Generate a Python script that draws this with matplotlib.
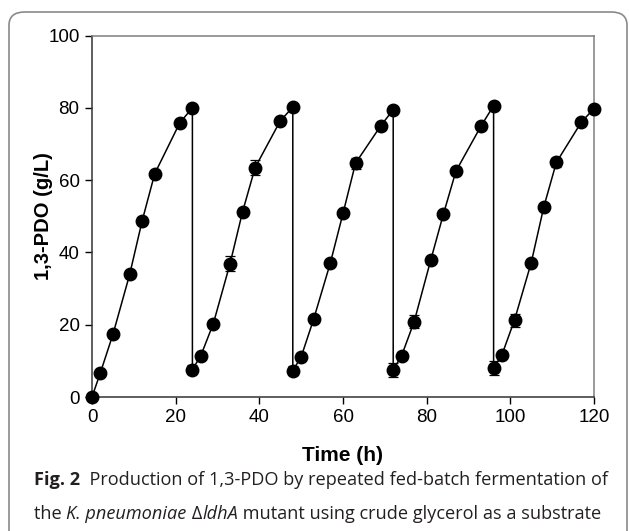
import numpy as np
import matplotlib.pyplot as plt
from matplotlib.patches import FancyBboxPatch

plt.rcParams['font.family'] = ['Liberation Sans', 'DejaVu Sans']

# tiempos (h) de cada ciclo, el punto de 24, 48, 72, 96 aparece dos veces (alimentacion)
tiempo = [0, 2, 5, 9, 12, 15, 21, 24,
          24, 26, 29, 33, 36, 39, 45, 48,
          48, 50, 53, 57, 60, 63, 69, 72,
          72, 74, 77, 81, 84, 87, 93, 96,
          96, 98, 101, 105, 108, 111, 117, 120]
pdo = [0, 6.7, 17.3, 33.9, 48.8, 61.8, 75.9, 80.0,
       7.6, 11.4, 20.3, 36.9, 51.3, 63.5, 76.4, 80.2,
       7.3, 11.1, 21.6, 37.2, 50.8, 64.7, 75.0, 79.5,
       7.5, 11.4, 20.8, 38.0, 50.6, 62.5, 75.0, 80.6,
       8.0, 11.7, 21.3, 37.2, 52.6, 64.9, 76.1, 79.8]
error = [0.3, 0.8, 0.8, 0.9, 0.9, 0.9, 0.9, 0.8,
         1.3, 0.9, 0.8, 2.0, 1.0, 2.0, 0.9, 0.8,
         1.2, 1.0, 0.8, 0.9, 0.9, 1.5, 0.8, 0.8,
         2.0, 1.0, 1.8, 0.9, 0.8, 1.2, 0.8, 0.8,
         2.0, 0.8, 1.8, 0.8, 0.8, 1.2, 0.9, 0.8]

fig = plt.figure(figsize=(6.29, 5.31), dpi=100)

# marco redondeado alrededor de figura y leyenda
marco = FancyBboxPatch((9 / 629, -0.05), (629 - 11) / 629, (531 - 12) / 531 + 0.05,
                       boxstyle="round,pad=0,rounding_size=0.025",
                       transform=fig.transFigure, fill=False,
                       edgecolor="#8a8a8a", linewidth=1.2, clip_on=False)
fig.patches.append(marco)

ax = fig.add_axes([92 / 629, 1 - 397 / 531, (594 - 92) / 629, (397 - 35.6) / 531])
ax.errorbar(tiempo, pdo, yerr=error, color="black", marker="o", markersize=9,
            linewidth=1.1, elinewidth=0.9, capsize=3.5, capthick=0.9, clip_on=False, zorder=3)

ax.set_xlim(0, 120)
ax.set_ylim(0, 100)
ax.set_xticks(np.arange(0, 121, 20))
ax.set_yticks(np.arange(0, 101, 20))
ax.tick_params(direction="out", length=5, width=1, labelsize=13.5, pad=4, colors="black")
ax.spines["left"].set_color("#333333")
ax.spines["bottom"].set_color("#333333")
ax.spines["top"].set_color("#7f7f7f")
ax.spines["right"].set_color("#7f7f7f")
for s in ax.spines.values():
    s.set_linewidth(1.1)

ax.set_xlabel("Time (h)", fontsize=15, fontweight="bold", labelpad=14)
ax.set_ylabel("1,3-PDO (g/L)", fontsize=14.5, fontweight="bold")
ax.yaxis.set_label_coords(-0.078, 0.5)

# leyenda de la figura, en piezas para mezclar negrita e italica
fig.canvas.draw()
r = fig.canvas.get_renderer()
lineas = [
    [("Fig. 2", "bold", "normal"), ("  Production of 1,3-PDO by repeated fed-batch fermentation of", "normal", "normal")],
    [("the ", "normal", "normal"), ("K. pneumoniae", "normal", "italic"), (" \u0394", "normal", "normal"),
     ("ldhA", "normal", "italic"), (" mutant using crude glycerol as a substrate", "normal", "normal")],
]
ys = [480, 514]
for linea, ypx in zip(lineas, ys):
    x = 34
    for txt, w, st in linea:
        t = fig.text(x / 629, 1 - ypx / 531, txt, fontsize=13.1, family="Open Sans",
                     fontweight=w, fontstyle=st, va="center", ha="left", color="#231f20")
        bb = t.get_window_extent(renderer=r)
        x += bb.width

fig.savefig("out.png", dpi=100)
